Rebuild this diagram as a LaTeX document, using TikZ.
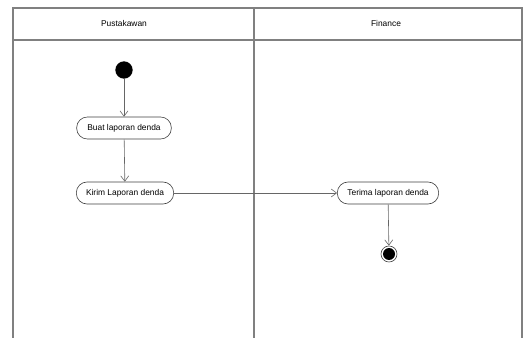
\documentclass[tikz,border=0pt]{standalone}
\usepackage{fontspec}
\setmainfont{Liberation Sans}
\usetikzlibrary{arrows.meta}
\begin{document}
\begin{tikzpicture}[x=0.75pt,y=-0.75pt,
  lane/.style={draw=black!50,line width=0.8pt},
  act/.style={draw=black!75,rounded corners=8pt,fill=white,minimum height=16.5pt,
    inner xsep=3pt,font=\fontsize{6.3}{7}\selectfont,line width=0.45pt},
  flow/.style={draw=black!60,line width=0.45pt,-{Straight Barb[length=4pt,width=6pt]}},
  lbl/.style={font=\fontsize{6.3}{7}\selectfont}]
  \useasboundingbox (0,0) rectangle (524,338);
  % swimlane frame
  \draw[lane] (13,338) -- (13,8) -- (522,8) -- (522,338);
  \draw[lane] (13,40) -- (522,40);
  \draw[lane] (254,8) -- (254,338);
  \node[lbl] (h1) at (124,24) {Pustakawan};
  \node[lbl] (h2) at (386,24) {Finance};
  % activities
  \node[circle,fill=black,minimum size=13pt,inner sep=0pt] (start) at (124,70) {};
  \node[act,minimum width=71pt] (buat) at (124,128) {Buat laporan denda};
  \node[act,minimum width=73pt] (kirim) at (125,193) {Kirim Laporan denda};
  \node[act,minimum width=76pt] (terima) at (388,193) {Terima laporan denda};
  \node[circle,draw=black!70,line width=0.5pt,fill=white,minimum size=12pt,inner sep=0pt] (end) at (389,254) {};
  \fill[black] (end.center) circle (4.5pt);
  % control flows
  \draw[flow] (start) -- (buat);
  \draw[flow] (buat) -- (kirim);
  \draw[flow] (kirim) -- (terima);
  \draw[flow] (terima) -- (end);
\end{tikzpicture}
\end{document}
